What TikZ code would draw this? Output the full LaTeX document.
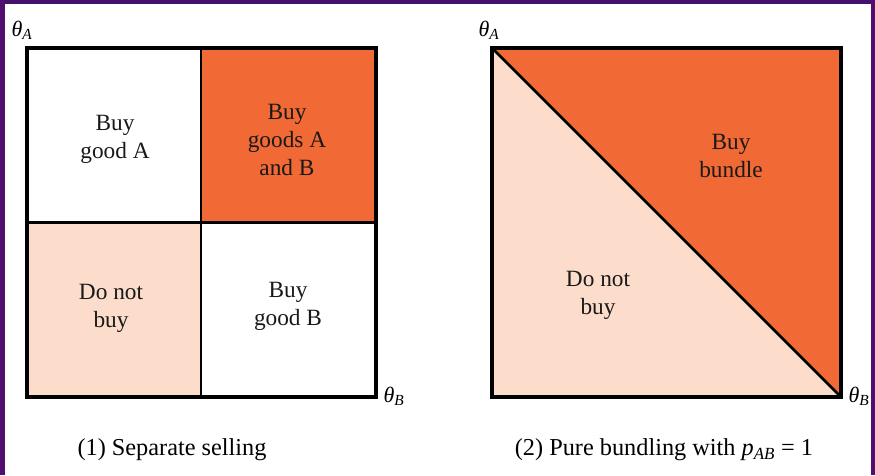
\documentclass[tikz,border=0pt]{standalone}
\usepackage{fontspec}
\setmainfont{Liberation Serif}
\usepackage{xcolor}
\usetikzlibrary{positioning}
\definecolor{buyorange}{RGB}{241,105,52}
\definecolor{nopeach}{RGB}{252,220,202}
\definecolor{edgepurple}{RGB}{70,16,110}

\begin{document}
\begin{tikzpicture}[x=1pt,y=-1pt,
  cell/.style={align=center,font=\fontsize{23.3}{28}\selectfont,text=black!90},
  axis/.style={font=\fontsize{22}{24}\selectfont\itshape,inner sep=0pt},
  caption/.style={font=\fontsize{24.3}{28}\selectfont,inner sep=0pt},
  frame/.style={line width=3.6pt,line join=miter}]
  \useasboundingbox (0,0) rectangle (875,475);
  % screenshot edges
  \fill[edgepurple] (0,0) rectangle (875,4);
  \fill[edgepurple!80!violet] (0,0) rectangle (5,475);
  \fill[edgepurple!80!violet] (871,0) rectangle (875,475);
  % (1) separate selling
  \fill[buyorange] (201,48) rectangle (376,222);
  \fill[nopeach] (27,222) rectangle (201,397);
  \draw[line width=2.6pt] (201,48) -- (201,397);
  \draw[line width=3pt] (27,222) -- (376,222);
  \draw[frame] (27,48) rectangle (376,397);
  \node[cell] (buyA) at (115,139) {Buy\\good A};
  \node[cell] (buyAB) at (287,140) {Buy\\goods A\\and B};
  \node[cell] (nobuy1) at (111,308) {Do not\\buy};
  \node[cell] (buyB) at (288,306) {Buy\\good B};
  \node[axis] (tA1) at (22,30) {θ\textsubscript{A}};
  \node[axis] (tB1) at (394,396) {θ\textsubscript{B}};
  \node[caption] (cap1) at (172,450) {(1) Separate selling};
  % (2) pure bundling
  \fill[nopeach] (492,48) -- (841,397) -- (492,397) -- cycle;
  \fill[buyorange] (492,48) -- (841,48) -- (841,397) -- cycle;
  \draw[line width=2.6pt] (492,48) -- (841,397);
  \draw[frame] (492,48) rectangle (841,397);
  \node[cell] (bundle) at (731,156) {Buy\\bundle};
  \node[cell] (nobuy2) at (598,295) {Do not\\buy};
  \node[axis] (tA2) at (489,30) {θ\textsubscript{A}};
  \node[axis] (tB2) at (859,396) {θ\textsubscript{B}};
  \node[caption] (cap2) at (664,450) {(2) Pure bundling with \textit{p}\textsubscript{\textit{AB}} = 1};
\end{tikzpicture}
\end{document}
